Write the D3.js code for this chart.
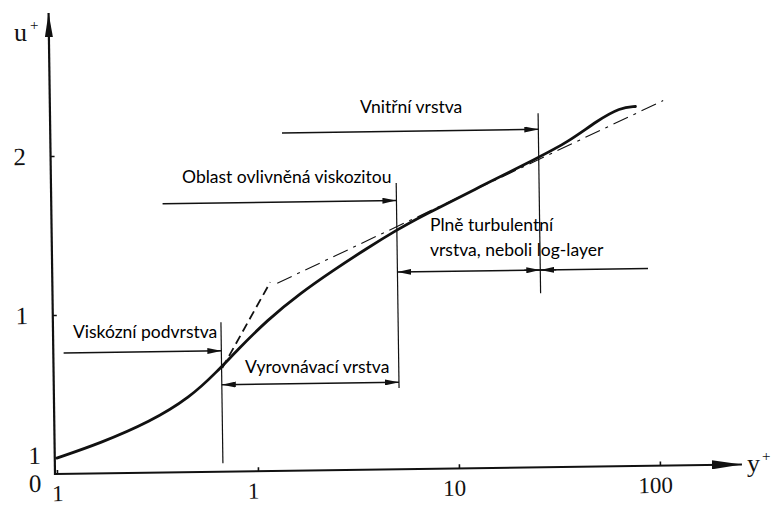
<!DOCTYPE html>
<html>
<head>
<meta charset="utf-8">
<script src="https://cdn.jsdelivr.net/npm/d3@7"></script>
<style>
  body { margin: 0; background: #fff; }
  svg { display: block; }
</style>
</head>
<body>
<svg id="chart" width="776" height="506"></svg>
<script>
// profile u+ against y+ (log axis)
const yPlus = [0.1, 0.165, 0.293, 0.465, 0.636, 0.80, 1.14, 1.67, 2.45, 3.62, 5.12, 6.68, 13.4, 25.8, 36.5, 51.6, 67.3, 80];
const uPlus = [0.10, 0.19, 0.32, 0.47, 0.63, 0.76, 0.95, 1.115, 1.257, 1.393, 1.506, 1.585, 1.77, 1.945, 2.04, 2.175, 2.255, 2.26];

// u+ = y+ extension (dashed) and log law (dash-dot)
const linearY = [0.675, 1.186];
const linearU = [0.651, 1.187];
const logLawY = [1.285, 110];
const logLawU = [1.18, 2.295];

// region boundaries (y+) and their vertical extent (u+)
const boundaryY = [0.67, 5.1, 26.2];
const boundaryFrom = [0.053, 0.51, 1.094];
const boundaryTo = [0.94, 1.80, 2.226];

// range arrows: from, to (y+), level (u+), heads
const arrowFrom = [0.11, 0.67, 0.35, 1.39, 5.1];
const arrowTo = [0.67, 5.1, 5.1, 26.2, 90];
const arrowU = [0.76, 0.547, 1.69, 2.125, 1.24];
const arrowHeads = ['end', 'both', 'end', 'end', 'start'];

// region labels
const labelText = ['Viskózní podvrstva', 'Vyrovnávací vrstva', 'Oblast ovlivněná viskozitou',
  'Vnitřní vrstva', 'Plně turbulentní', 'vrstva, neboli log-layer'];
const labelY = [0.120, 0.862, 0.419, 3.22, 7.17, 7.17];
const labelU = [0.893, 0.673, 1.868, 2.308, 1.566, 1.409];

// tick labels
const xTicks = [0.1, 1, 10, 100];
const xTickLabels = ['1', '1', '10', '100'];
const yTicks = [1, 2];
const yLabelValues = [0, 0.12, 1, 2];
const yLabelText = ['0', '1', '1', '2'];

const svg = d3.select('#chart');
const ink = '#111';

const xScale = d3.scaleLog().domain([0.1, 100]).range([57, 660]);
const yScale = d3.scaleLinear().domain([0, 2]).range([474, 156]);
const x0 = 55, y0 = 474;

const defs = svg.append('defs');
function marker(id, len, half) {
  defs.append('marker')
    .attr('id', id)
    .attr('viewBox', `0 ${-half} ${len} ${half * 2}`)
    .attr('refX', len).attr('refY', 0)
    .attr('markerWidth', len).attr('markerHeight', half * 2)
    .attr('markerUnits', 'userSpaceOnUse')
    .attr('orient', 'auto-start-reverse')
    .append('path')
    .attr('d', `M0,${-half}L${len},0L0,${half}Z`)
    .attr('fill', ink);
}
marker('head', 14, 3);
marker('axisY', 24, 4);
marker('axisX', 30, 4.5);

// the scanned drawing sits slightly rotated
const scan = svg.append('g').attr('transform', `rotate(-0.8, ${x0}, ${y0})`);

// axes
scan.append('g')
  .attr('transform', `translate(0,${y0})`)
  .call(d3.axisBottom(xScale).tickValues(xTicks).tickSizeInner(-4).tickSizeOuter(0)
    .tickPadding(11).tickFormat((d, i) => xTickLabels[i]))
  .call(g => g.select('.domain').remove())
  .call(g => g.selectAll('line').attr('stroke', ink).attr('stroke-width', 1.6))
  .call(g => g.selectAll('text')
    .attr('font-family', '"Liberation Serif", serif').attr('font-size', 23)
    .attr('fill', ink).attr('dx', (d, i) => i ? -5 : 0));

scan.append('g')
  .attr('transform', `translate(${x0},0)`)
  .call(d3.axisLeft(yScale).tickValues(yTicks).tickSizeInner(-4).tickSizeOuter(0).tickFormat(''))
  .call(g => g.select('.domain').remove())
  .call(g => g.selectAll('line').attr('stroke', ink).attr('stroke-width', 1.6));

scan.append('line')
  .attr('x1', x0).attr('y1', y0).attr('x2', 742).attr('y2', y0)
  .attr('stroke', ink).attr('stroke-width', 2).attr('marker-end', 'url(#axisX)');
scan.append('line')
  .attr('x1', x0).attr('y1', y0 + 1).attr('x2', x0).attr('y2', 13)
  .attr('stroke', ink).attr('stroke-width', 2.2).attr('marker-end', 'url(#axisY)');

scan.append('g')
  .selectAll('text')
  .data(yLabelValues)
  .join('text')
  .attr('x', d => d >= 1 ? 24 : 35)
  .attr('y', (d, i) => yScale(d) + (d === 0 ? 9 : 0))
  .attr('dy', '0.35em')
  .attr('text-anchor', 'middle')
  .attr('font-family', '"Liberation Serif", serif')
  .attr('font-size', 25)
  .attr('fill', ink)
  .text((d, i) => yLabelText[i]);

// boundaries
scan.append('g')
  .selectAll('line')
  .data(boundaryY)
  .join('line')
  .attr('x1', d => xScale(d)).attr('x2', d => xScale(d))
  .attr('y1', (d, i) => yScale(boundaryFrom[i]))
  .attr('y2', (d, i) => yScale(boundaryTo[i]))
  .attr('stroke', ink).attr('stroke-width', 1.2);

// range arrows
scan.append('g')
  .selectAll('line')
  .data(arrowFrom)
  .join('line')
  .attr('x1', d => xScale(d))
  .attr('x2', (d, i) => xScale(arrowTo[i]))
  .attr('y1', (d, i) => yScale(arrowU[i]))
  .attr('y2', (d, i) => yScale(arrowU[i]))
  .attr('stroke', ink).attr('stroke-width', 1.5)
  .attr('marker-end', (d, i) => arrowHeads[i] !== 'start' ? 'url(#head)' : null)
  .attr('marker-start', (d, i) => arrowHeads[i] !== 'end' ? 'url(#head)' : null);

// bow-tie heads where the log-layer arrow crosses the inner-layer boundary
const tieX = xScale(boundaryY[2]);
const tieY = yScale(arrowU[4]);
scan.append('g')
  .selectAll('line')
  .data([-1, 1])
  .join('line')
  .attr('x1', s => tieX + s * 16).attr('x2', tieX)
  .attr('y1', tieY).attr('y2', tieY)
  .attr('stroke', ink).attr('stroke-width', 1.5)
  .attr('marker-end', 'url(#head)');

// curves
const line = d3.line().x(d => xScale(d[0])).y(d => yScale(d[1]));

scan.append('path')
  .datum(linearY.map((d, i) => [d, linearU[i]]))
  .attr('d', line)
  .attr('fill', 'none').attr('stroke', ink).attr('stroke-width', 1.8)
  .attr('stroke-dasharray', '9,5');

scan.append('path')
  .datum(logLawY.map((d, i) => [d, logLawU[i]]))
  .attr('d', line)
  .attr('fill', 'none').attr('stroke', ink).attr('stroke-width', 1.1)
  .attr('stroke-dasharray', '16,6,3,6');

scan.append('path')
  .datum(yPlus.map((d, i) => [d, uPlus[i]]))
  .attr('d', line.curve(d3.curveBasis))
  .attr('fill', 'none').attr('stroke', ink).attr('stroke-width', 2.8)
  .attr('stroke-linecap', 'round');

// axis names (added over the scan, not rotated)
const names = svg.append('g')
  .attr('font-family', '"Liberation Serif", serif')
  .attr('fill', ink);
names.append('text').attr('x', 14).attr('y', 41).attr('font-size', 26).text('u');
names.append('text').attr('x', 30).attr('y', 30).attr('font-size', 15).text('+');
names.append('text').attr('x', 747).attr('y', 472).attr('font-size', 26).text('y');
names.append('text').attr('x', 762).attr('y', 461).attr('font-size', 15).text('+');

// region labels
svg.append('g')
  .selectAll('text')
  .data(labelText)
  .join('text')
  .attr('x', (d, i) => xScale(labelY[i]))
  .attr('y', (d, i) => yScale(labelU[i]))
  .attr('dy', '0.35em')
  .attr('font-family', 'Lato, sans-serif')
  .attr('font-size', 17.5)
  .attr('fill', '#000')
  .text(d => d);
</script>
</body>
</html>
